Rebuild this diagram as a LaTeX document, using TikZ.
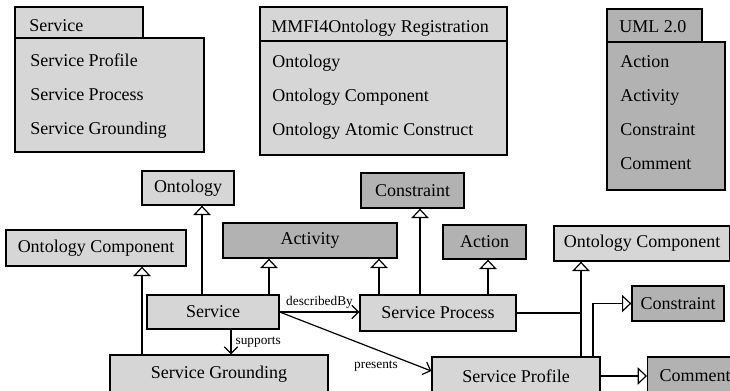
\documentclass[tikz,border=0pt]{standalone}
\usepackage{fontspec}
\setmainfont{Liberation Serif}
\usetikzlibrary{arrows.meta,calc}
\definecolor{lightg}{RGB}{214,214,214}
\definecolor{darkg}{RGB}{178,178,178}
\newcommand\mainsz{\fontsize{13.5}{16}\selectfont}
\newcommand\lblsz{\fontsize{10}{12}\selectfont}
\begin{document}
\begin{tikzpicture}[x=0.75pt,y=-0.75pt,
  box/.style={draw, line width=1pt, fill=lightg, inner sep=0pt, font=\mainsz, text=black},
  dbox/.style={box, fill=darkg},
  sz/.style 2 args={minimum width=0.75*#1pt, minimum height=0.75*#2pt},
  gen/.style={line width=0.9pt, -{Triangle[length=7pt,width=13pt,fill=white]}},
  assoc/.style={line width=0.9pt, -{Straight Barb[length=5pt,width=10pt,line width=0.9pt]}},
  plain/.style={line width=0.9pt},
  pkg/.style={draw, line width=1pt},
  ptext/.style={anchor=base west, font=\mainsz, inner sep=0pt},
  lbl/.style={font=\lblsz, inner sep=1pt}]
\useasboundingbox (0,0) rectangle (730,390);
\clip (0,0) rectangle (730,390);
% ---------- packages ----------
\draw[pkg, fill=lightg] (15,7) rectangle (143,38);
\draw[pkg, fill=lightg] (15,38) rectangle (204,152);
\node[ptext] (p1t) at (29,31) {Service};
\node[ptext] (p1a) at (30,66) {Service Profile};
\node[ptext] (p1b) at (30,100) {Service Process};
\node[ptext] (p1c) at (30,134) {Service Grounding};

\draw[pkg, fill=lightg] (260,7) rectangle (507,41);
\draw[pkg, fill=lightg] (260,41) rectangle (507,155);
\node[ptext] (p2t) at (271,32) {MMFI4Ontology Registration};
\node[ptext] (p2a) at (272,67) {Ontology};
\node[ptext] (p2b) at (272,101) {Ontology Component};
\node[ptext] (p2c) at (272,135) {Ontology Atomic Construct};

\draw[pkg, fill=darkg] (607,9) rectangle (702,42);
\draw[pkg, fill=darkg] (607,42) rectangle (725,190);
\node[ptext] (p3t) at (619,32) {UML 2.0};
\node[ptext] (p3a) at (620,67) {Action};
\node[ptext] (p3b) at (620,101) {Activity};
\node[ptext] (p3c) at (620,135) {Constraint};
\node[ptext] (p3d) at (620,169) {Comment};

% ---------- class boxes ----------
\node[box, sz={92}{34}]   (ont)    at (188,188)   {Ontology};
\node[box, sz={180}{36}]  (oc1)    at (96,248)    {Ontology Component};
\node[dbox, sz={174}{35}] (act)    at (310,240.5) {Activity};
\node[box, sz={132}{34}]  (svc)    at (213,312)   {Service};
\node[box, sz={218}{38}]  (sg)     at (219,374)   {Service Grounding};
\node[dbox, sz={103}{35}] (con1)   at (412.5,190.5) {Constraint};
\node[dbox, sz={83}{34}]  (action) at (484.5,242) {Action};
\node[box, sz={156}{36}]  (sp)     at (438,313)   {Service Process};
\node[box, sz={168}{38}]  (prof)   at (516,376)   {Service Profile};
\node[box, sz={176}{35}]  (oc2)    at (642,243.5) {Ontology Component};
\node[dbox, sz={92}{35}]  (con2)   at (678,303.5) {Constraint};
\node[dbox, sz={100}{38}, anchor=west, inner xsep=0.75*10pt, text width=0.75*76pt, align=left] (com) at (647,376) {Comment};

% ---------- helper x positions ----------
\coordinate (xont) at (202,0);
\coordinate (xact1) at (269,0);
\coordinate (xoc1) at (142,0);
\coordinate (xsup) at (231,0);
\coordinate (xact2) at (379,0);
\coordinate (xcon1) at (420,0);
\coordinate (xaction) at (488,0);
\coordinate (xoc2) at (581,0);
\coordinate (xcon2) at (593,0);

% ---------- generalizations ----------
\draw[gen] (xont |- svc.north) -- (xont |- ont.south);
\draw[gen] (xact1 |- svc.north) -- (xact1 |- act.south);
\draw[gen] (xoc1 |- sg.north) -- (xoc1 |- oc1.south);
\draw[gen] (xact2 |- sp.north) -- (xact2 |- act.south);
\draw[gen] (xcon1 |- sp.north) -- (xcon1 |- con1.south);
\draw[gen] (xaction |- sp.north) -- (xaction |- action.south);
\draw[plain] (sp.east) -- (xoc2 |- sp.east);
\draw[gen] (xoc2 |- prof.north) -- (xoc2 |- oc2.south);
\draw[gen] (xcon2 |- prof.north) |- (con2.west);
\draw[gen] (prof.east) -- (com.west);

% ---------- associations ----------
\draw[assoc] (svc.east) -- (sp.west |- svc.east)
  node[lbl, midway, above=1pt] (lbldb) {describedBy};
\coordinate (presEnd) at ($(prof.west)+(0,-5)$);
\draw[assoc] (svc.east) -- (presEnd);
\node[lbl] (lblpr) at (376,366) {presents};
\draw[assoc] (xsup |- svc.south) -- (xsup |- sg.north);
\node[lbl, anchor=west] (lblsu) at (234,342) {supports};
\end{tikzpicture}
\end{document}
